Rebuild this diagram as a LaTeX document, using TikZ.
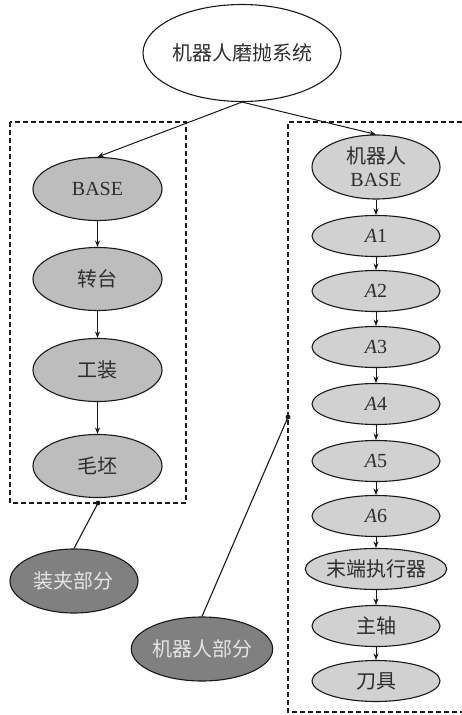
\documentclass[tikz,border=0pt]{standalone}
\usepackage{fontspec}
\setmainfont{Liberation Serif}
\newfontfamily\cjk{Noto Sans CJK SC}
\usetikzlibrary{shapes.geometric,arrows.meta}
\tikzset{
  el/.style={ellipse,draw=black!90,line width=1.1pt,inner sep=0pt,text=black!82,font=\fontsize{20}{23}\selectfont,align=center},
  lg/.style={el,fill=black!26,minimum width=129,minimum height=63},
  rg/.style={el,fill=black!18,minimum width=128,minimum height=41},
  dk/.style={el,fill=black!50,text=white!90!black,minimum width=128,minimum height=64},
  arr/.style={-{Stealth[length=6.5pt,width=5pt]},line width=1pt,draw=black!90},
  ln/.style={line width=1.1pt,draw=black!90},
  box/.style={line width=1.1pt,draw=black!90,dash pattern=on 5pt off 3pt},
}
\begin{document}
\begin{tikzpicture}[x=1pt,y=-1pt]
\path[use as bounding box] (0,0) rectangle (462,715);
% boxes
\draw[box] (10,122) rectangle (186,503);
\draw[box] (462,122) -- (288,122) -- (288,712) -- (462,712);
% top
\node[el,fill=white,minimum width=176,minimum height=97] (top) at (242,53) {\cjk 机器人磨抛系统};
% left chain
\node[lg] (b) at (97.5,189) {BASE};
\node[lg] (z) at (97.5,279) {\cjk 转台};
\node[lg] (g) at (97.5,370) {\cjk 工装};
\node[lg] (m) at (97.5,466) {\cjk 毛坯};
% right chain
\node[el,fill=black!18,minimum width=128,minimum height=64] (rb) at (376,167) {{\cjk 机器人}\\BASE};
\node[rg] (a1) at (376,236) {\textit{A}1};
\node[rg] (a2) at (376,291) {\textit{A}2};
\node[rg] (a3) at (376,347) {\textit{A}3};
\node[rg] (a4) at (376,404) {\textit{A}4};
\node[rg] (a5) at (376,461) {\textit{A}5};
\node[rg] (a6) at (376,516) {\textit{A}6};
\node[rg] (ee) at (376,569) {\cjk 末端执行器};
\node[rg] (zz) at (376,626) {\cjk 主轴};
\node[rg] (dj) at (376,681) {\cjk 刀具};
% labels
\node[dk] (zj) at (74,581) {\cjk 装夹部分};
\node[dk] (jq) at (202,649) {\cjk 机器人部分};
% connectors
\draw[arr] (top.south) -- (b.north);
\draw[arr] (top.south) -- (rb.north);
\draw[arr] (b) -- (z);
\draw[arr] (z) -- (g);
\draw[arr] (g) -- (m);
\draw[arr] (rb) -- (a1);
\draw[arr] (a1) -- (a2);
\draw[arr] (a2) -- (a3);
\draw[arr] (a3) -- (a4);
\draw[arr] (a4) -- (a5);
\draw[arr] (a5) -- (a6);
\draw[arr] (a6) -- (ee);
\draw[arr] (ee) -- (zz);
\draw[arr] (zz) -- (dj);
\coordinate (d1) at (98,503);
\coordinate (d2) at (288,417);
\draw[ln] (zj.north) -- (d1);
\draw[ln] (jq.north) -- (d2);
\fill[black!90] (d1) circle (2.4pt);
\fill[black!90] (d2) circle (2.4pt);
\end{tikzpicture}
\end{document}
